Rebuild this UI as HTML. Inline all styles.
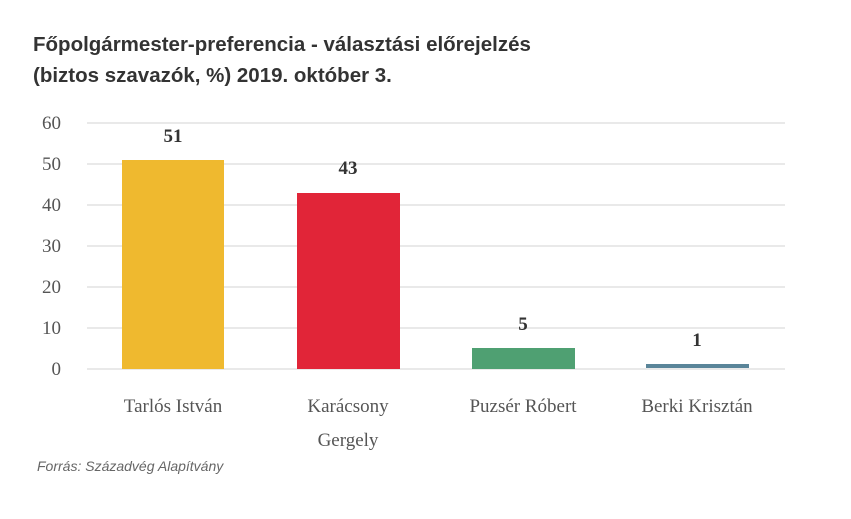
<!DOCTYPE html>
<html><head><meta charset="utf-8"><style>
body{margin:0;background:#fff;width:851px;height:514px;overflow:hidden}
</style></head><body>
<svg width="851" height="514" xmlns="http://www.w3.org/2000/svg">
<g font-family="Liberation Sans, sans-serif" font-weight="bold" font-size="20.5" fill="#333">
<text x="33" y="51">Főpolgármester-preferencia - választási előrejelzés</text>
<text x="33" y="82">(biztos szavazók, %) 2019. október 3.</text>
</g>
<g stroke="#e2e2e2" stroke-width="1.5">
<line x1="87" x2="785" y1="123" y2="123"/>
<line x1="87" x2="785" y1="164" y2="164"/>
<line x1="87" x2="785" y1="205" y2="205"/>
<line x1="87" x2="785" y1="246" y2="246"/>
<line x1="87" x2="785" y1="287" y2="287"/>
<line x1="87" x2="785" y1="328" y2="328"/>
<line x1="87" x2="785" y1="369" y2="369"/>
</g>
<g font-family="Liberation Serif, serif" font-size="19" fill="#555" text-anchor="end">
<text x="61" y="129">60</text><text x="61" y="170">50</text><text x="61" y="211">40</text>
<text x="61" y="252">30</text><text x="61" y="293">20</text><text x="61" y="334">10</text><text x="61" y="375">0</text>
</g>
<rect x="122" y="160" width="102" height="209" fill="#efb92f"/>
<rect x="297" y="193" width="103" height="176" fill="#e12538"/>
<rect x="472" y="348" width="103" height="21" fill="#4fa072"/>
<rect x="646" y="364" width="103" height="4" fill="#5a8599"/>
<g font-family="Liberation Serif, serif" font-weight="bold" font-size="19" fill="#333" text-anchor="middle">
<text x="173" y="142">51</text><text x="348" y="174">43</text><text x="523" y="330">5</text><text x="697" y="346">1</text>
</g>
<g font-family="Liberation Serif, serif" font-size="19" fill="#555" text-anchor="middle">
<text x="173" y="412">Tarlós István</text>
<text x="348" y="412">Karácsony</text>
<text x="348" y="446">Gergely</text>
<text x="523" y="412">Puzsér Róbert</text>
<text x="697" y="412">Berki Krisztán</text>
</g>
<text x="37" y="471" font-family="Liberation Sans, sans-serif" font-style="italic" font-size="14" fill="#666">Forrás: Századvég Alapítvány</text>
</svg>
</body></html>
